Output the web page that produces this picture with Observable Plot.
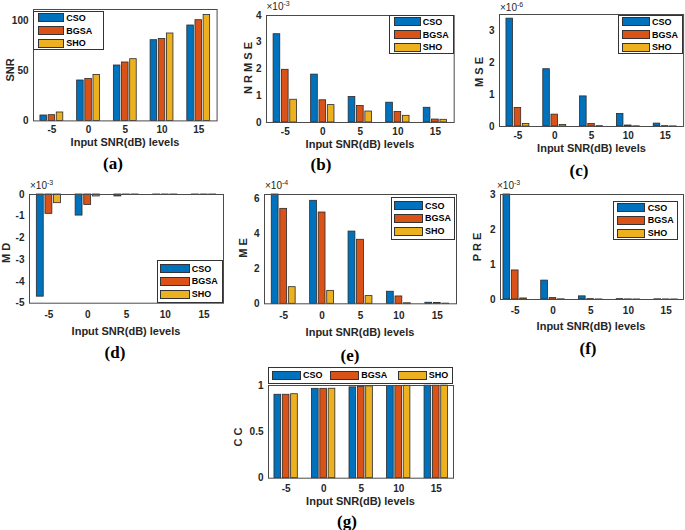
<!DOCTYPE html>
<html><head><meta charset="utf-8">
<script src="https://cdn.jsdelivr.net/npm/d3@7"></script>
<script src="https://cdn.jsdelivr.net/npm/@observablehq/plot@0.6"></script>
<style>
body{margin:0;background:#fff;}
#root{position:relative;width:685px;height:530px;overflow:hidden;background:#fff;font-family:"Liberation Sans",Arial,Helvetica,sans-serif;color:#262626;}
.abs{position:absolute;white-space:nowrap;line-height:1;}
.xl{font-size:11px;font-weight:bold;transform:translate(-50%,-50%);}
.yl{font-size:11px;font-weight:bold;transform:translate(-50%,-50%) rotate(-90deg);}
.pl{font-family:"Liberation Serif","Times New Roman",serif;font-weight:bold;font-size:17px;transform:translate(-50%,-50%);color:#000;}
.ex{font-size:10px;line-height:10px;}
.ex sup{font-size:7px;line-height:0;vertical-align:4px;}
.lg{position:absolute;border:1px solid #333;background:#fff;box-sizing:border-box;font-size:9px;font-weight:bold;color:#000;}
.sw{position:absolute;border:1px solid #333;box-sizing:border-box;height:9px;}
.lt{position:absolute;transform:translateY(-50%);white-space:nowrap;line-height:1;}
svg.plot{background:transparent !important;max-width:none !important;}
</style></head><body><div id="root"></div>
<script>
// ---- data ----
const categories = ["-5", "0", "5", "10", "15"];
const algorithms = ["CSO", "BGSA", "SHO"];
const colors = ["#0072BD", "#D95319", "#EDB120"];

// rows: CSO, BGSA, SHO ; columns: categories
const snrValues = [[5.4, 40.4, 55.4, 80.7, 95.4], [5.7, 42, 58.4, 82, 100.7], [8.4, 46, 61.7, 87.4, 106]];
const nrmseValues = [[3.3e-3, 1.79e-3, 0.95e-3, 0.74e-3, 0.55e-3], [1.97e-3, 0.83e-3, 0.62e-3, 0.39e-3, 0.11e-3], [0.85e-3, 0.65e-3, 0.41e-3, 0.25e-3, 0.10e-3]];
const mseValues = [[3.37e-6, 1.79e-6, 0.94e-6, 0.39e-6, 0.09e-6], [0.58e-6, 0.37e-6, 0.08e-6, 0.03e-6, 0.01e-6], [0.08e-6, 0.05e-6, 0.01e-6, 0.005e-6, 0.003e-6]];
const mdValues = [[-4.7e-3, -0.97e-3, -0.09e-3, -0.01e-3, -0.002e-3], [-0.89e-3, -0.48e-3, -0.02e-3, -0.005e-3, -0.001e-3], [-0.4e-3, -0.09e-3, -0.01e-3, -0.003e-3, -0.001e-3]];
const meValues = [[6.3e-4, 5.89e-4, 4.13e-4, 0.69e-4, 0.06e-4], [5.43e-4, 5.22e-4, 3.66e-4, 0.42e-4, 0.05e-4], [0.95e-4, 0.74e-4, 0.44e-4, 0.03e-4, 0.01e-4]];
const preValues = [[3.2e-3, 0.54e-3, 0.09e-3, 0.01e-3, 0.005e-3], [0.83e-3, 0.04e-3, 0.01e-3, 0.003e-3, 0.002e-3], [0.03e-3, 0.005e-3, 0.002e-3, 0.001e-3, 0.001e-3]];
const ccValues = [[0.90, 0.964, 0.98, 0.995, 0.998], [0.90, 0.964, 0.985, 0.996, 0.998], [0.906, 0.965, 0.99, 0.997, 0.999]];

const yLabels = ["SNR", "N R M S E", "M S E", "M D", "M E", "P R E", "C C"];
const panelLetters = ["(a)", "(b)", "(c)", "(d)", "(e)", "(f)", "(g)"];
const xTitle = "Input SNR(dB) levels";

// ---- layout ----
const panels = [
  {values: snrValues, yDomain: [0, 111.4], yTicks: [0, 50, 100], scale: 1, exp: null,
   box: [33, 216.6, 9.3, 120.7], xDomain: [0.5, 5.5], xPad: 5,
   yl: [10, 70], xl: [125, 141.5], pl: [113, 163], ex: null,
   lg: {r: [33.3, 11, 71, 39], sx: 3.4, sw: 26.6, tx: 32}},
  {values: nrmseValues, yDomain: [0, 4e-3], yTicks: [0, 1e-3, 2e-3, 3e-3, 4e-3], scale: 1e3, exp: "-3",
   box: [266.3, 454, 15, 122], xDomain: [0.5, 5.5], xPad: 5,
   yl: [247.7, 68], xl: [360, 143.5], pl: [321, 164], ex: [266.5, 2],
   lg: {r: [389.3, 15, 65, 39.3], sx: 3.4, sw: 27.3, tx: 32.4}},
  {values: mseValues, yDomain: [0, 3.5e-6], yTicks: [0, 1e-6, 2e-6, 3e-6], scale: 1e6, exp: "-6",
   box: [499.3, 683.4, 14.3, 126.3], xDomain: [0.5, 5.5], xPad: 5,
   yl: [479, 72], xl: [591.5, 147.5], pl: [579, 170], ex: [500, 3],
   lg: {r: [617.7, 15, 65, 39.3], sx: 3, sw: 28.6, tx: 33.3}},
  {values: mdValues, yDomain: [-5e-3, 0], yTicks: [-5e-3, -4e-3, -3e-3, -2e-3, -1e-3, 0], scale: 1e3, exp: "-3",
   box: [29, 223, 194, 302.7], xDomain: [0.5, 5.5], xPad: 8,
   yl: [6, 253], xl: [126, 331], pl: [115, 352], ex: [30, 181],
   lg: {r: [156.7, 260, 66, 42.7], sx: 2.6, sw: 29.4, tx: 34}},
  {values: meValues, yDomain: [0, 6.25e-4], yTicks: [0, 2e-4, 4e-4, 6e-4], scale: 1e4, exp: "-4",
   box: [264, 456, 194, 303.3], xDomain: [0.5, 5.5], xPad: 8,
   yl: [243, 248], xl: [360, 332], pl: [350, 355], ex: [265, 181],
   lg: {r: [391, 196.7, 64, 43.3], sx: 2.3, sw: 28.4, tx: 33}},
  {values: preValues, yDomain: [0, 3e-3], yTicks: [0, 1e-3, 2e-3, 3e-3], scale: 1e3, exp: "-3",
   box: [500, 683, 194, 299], xDomain: [0.61, 5.46], xPad: 7,
   yl: [477, 247], xl: [591, 326], pl: [588, 348], ex: [497, 181],
   lg: {r: [613.3, 200.7, 65, 39.3], sx: 2.7, sw: 28.3, tx: 33.4}},
  {values: ccValues, yDomain: [0, 1], yTicks: [0, 0.5, 1], scale: 1, exp: null,
   box: [268, 453, 385, 477.7], xDomain: [0.53, 5.46], xPad: 7,
   yl: [238, 437], xl: [360.5, 501], pl: [347, 521], ex: null,
   lg: {r: [268, 367, 185, 16.5], horizontal: true, entries: [3, 61.3, 128.7], sw: 29, tx: 31}}
];

const root = document.getElementById("root");
const groupStep = 2 / 9;      // offset between bars inside a group
const barWidth = 0.8 * groupStep;

function addDiv(cls, x, y, html) {
  const d = document.createElement("div");
  d.className = "abs " + cls;
  d.style.left = x + "px";
  d.style.top = y + "px";
  d.innerHTML = html;
  root.appendChild(d);
  return d;
}

panels.forEach((p, k) => {
  const [x0, x1, y0, y1] = p.box;
  const ml = 40, mr = 4, mt = 4, mb = 30;
  const rows = algorithms.flatMap((alg, s) => categories.map((c, i) => ({
    cat: c, alg, pos: i + 1 + (s - 1) * groupStep, value: p.values[s][i]
  })));
  const fmt = p.scale === 1 ? (d => String(d)) : (d => String(Math.round(d * p.scale)));
  const chart = Plot.plot({
    width: x1 - x0 + ml + mr,
    height: y1 - y0 + mt + mb,
    marginLeft: ml, marginRight: mr, marginTop: mt, marginBottom: mb,
    style: {fontFamily: '"Liberation Sans", Arial, sans-serif', fontSize: "10px", fontWeight: "bold",
            color: "#262626", background: "transparent", overflow: "visible"},
    x: {domain: p.xDomain, ticks: [1, 2, 3, 4, 5], tickFormat: v => categories[v - 1],
        tickSize: 0, tickPadding: p.xPad, label: null},
    y: {domain: p.yDomain, ticks: p.yTicks, tickFormat: fmt, tickSize: 0, tickPadding: 5,
        label: null, clamp: true},
    color: {domain: algorithms, range: colors},
    marks: [
      Plot.rect(rows, {x1: d => d.pos - barWidth / 2, x2: d => d.pos + barWidth / 2,
                       y1: d => 0, y2: "value", fill: "alg", stroke: "#2a2a2a", strokeWidth: 0.8}),
      Plot.frame({stroke: "#4a4a4a"})
    ]
  });
  chart.style.position = "absolute";
  chart.style.left = (x0 - ml) + "px";
  chart.style.top = (y0 - mt) + "px";
  root.appendChild(chart);

  addDiv("yl", p.yl[0], p.yl[1], yLabels[k]);
  addDiv("xl", p.xl[0], p.xl[1], xTitle);
  addDiv("pl", p.pl[0], p.pl[1], panelLetters[k]);
  if (p.exp) addDiv("ex", p.ex[0], p.ex[1], "×10<sup>" + p.exp + "</sup>");

  // legend
  const L = p.lg;
  const box = document.createElement("div");
  box.className = "lg";
  box.style.left = L.r[0] + "px"; box.style.top = L.r[1] + "px";
  box.style.width = L.r[2] + "px"; box.style.height = L.r[3] + "px";
  algorithms.forEach((alg, s) => {
    const sw = document.createElement("div");
    sw.className = "sw";
    sw.style.background = colors[s];
    sw.style.width = L.sw + "px";
    const t = document.createElement("div");
    t.className = "lt";
    t.textContent = alg;
    let cy, sx, tx;
    if (L.horizontal) {
      cy = (L.r[3] - 2) / 2; sx = L.entries[s]; tx = sx + L.tx;
    } else {
      cy = (L.r[3] - 2) / 2 + (s - 1) * 12.7; sx = L.sx; tx = L.tx;
    }
    sw.style.left = sx + "px"; sw.style.top = (cy - 4.5) + "px";
    t.style.left = tx + "px"; t.style.top = cy + "px";
    box.appendChild(sw); box.appendChild(t);
  });
  root.appendChild(box);
});
</script></body></html>
